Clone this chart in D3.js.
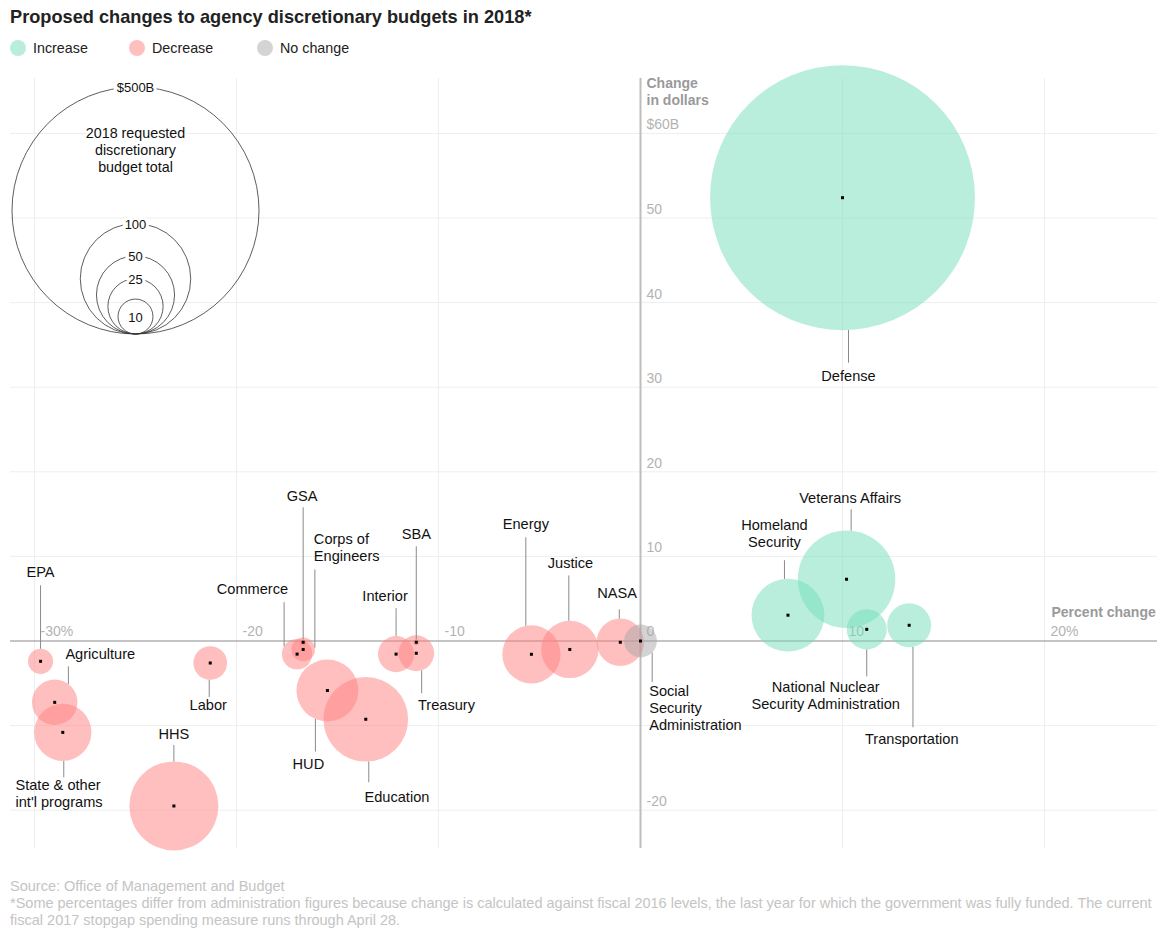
<!DOCTYPE html>
<html>

<head>
  <meta charset="utf-8">
  <title>Proposed changes to agency discretionary budgets in 2018</title>
  <script src="https://cdn.jsdelivr.net/npm/d3@7"></script>
  <style>
    body {
      margin: 0;
      background: #fff;
      font-family: "Liberation Sans", Arial, Helvetica, sans-serif;
    }
    text {
      font-family: "Liberation Sans", Arial, Helvetica, sans-serif;
    }
    line.grid {
      stroke: #eeeeee;
      stroke-width: 1;
    }
    text.tick {
      fill: #b3b3b3;
      font-size: 14px;
    }
    text.axis-title {
      fill: #9a9a9a;
      font-size: 14px;
      font-weight: bold;
    }
    text.label {
      fill: #111;
      font-size: 14.6px;
    }
    line.leader {
      stroke: #8a8a8a;
      stroke-width: 1;
    }
    text.foot {
      fill: #c4c4c4;
      font-size: 14.5px;
    }
  </style>
</head>

<body>
  <svg id="chart"></svg>

  <script>
    // agencies, percent change in budget, change in dollars ($B), 2018 request ($B)
    var agencies = ['EPA', 'Agriculture', "State & other int'l programs", 'HHS', 'Labor', 'Commerce', 'GSA',
      'Corps of Engineers', 'HUD', 'Education', 'Interior', 'Treasury', 'SBA', 'Energy', 'Justice', 'NASA',
      'Social Security Administration', 'Homeland Security', 'Veterans Affairs',
      'National Nuclear Security Administration', 'Transportation', 'Defense'];
    var pctChange = [-29.7, -29.0, -28.6, -23.1, -21.3, -17.0, -16.7,
      -16.7, -15.5, -13.6, -12.1, -11.1, -11.1, -5.4, -3.5, -1.0,
      0, 7.3, 10.2,
      11.2, 13.3, 10.0];
    var dollarChange = [-2.4, -7.25, -10.8, -19.5, -2.6, -1.55, -0.15,
      -1.0, -5.85, -9.25, -1.55, -1.45, -0.15, -1.57, -1.0, -0.15,
      0, 3.05, 7.3,
      1.38, 1.86, 52.4];
    var budget2018 = [5.2, 17.0, 26.9, 65.0, 9.3, 7.6, 0.3,
      4.6, 31.4, 58.8, 10.7, 10.5, 0.3, 27.8, 26.9, 18.5,
      8.8, 43.5, 78.0,
      13.2, 15.8, 575];

    var xTicks = [-30, -20, -10, 0, 10, 20];
    var xTickLabels = ['-30%', '-20', '-10', '0', '10', '20%'];
    var yTicks = [-20, -10, 10, 20, 30, 40, 50, 60];
    var yTickLabels = ['-20', '', '10', '20', '30', '40', '50', '$60B'];

    var sizeValues = [500, 100, 50, 25, 10];
    var sizeLabels = ['$500B', '100', '50', '25', '10'];

    var legendKeys = ['Increase', 'Decrease', 'No change'];

    var title = 'Proposed changes to agency discretionary budgets in 2018*';
    var footLines = ['Source: Office of Management and Budget',
      '*Some percentages differ from administration figures because change is calculated against fiscal 2016 levels, the last year for which the government was fully funded. The current',
      'fiscal 2017 stopgap spending measure runs through April 28.'];

    // label placement, in pixels relative to each bubble centre
    var labelLayout = {
      'EPA': { lines: ['EPA'], dx: 0, dy: -84, anchor: 'middle', lx: 0, le: -76 },
      'Agriculture': { lines: ['Agriculture'], dx: 10.7, dy: -43, anchor: 'start', lx: 13.7, le: -36 },
      "State & other int'l programs": { lines: ['State & other', "int'l programs"], dx: -47.3, dy: 58, anchor: 'start', lx: 1, le: 45 },
      'HHS': { lines: ['HHS'], dx: 0, dy: -67, anchor: 'middle', lx: 0, le: -61 },
      'Labor': { lines: ['Labor'], dx: -2, dy: 47, anchor: 'middle', lx: -1, le: 34 },
      'Commerce': { lines: ['Commerce'], dx: -9, dy: -60, anchor: 'end', lx: -13, le: -52 },
      'GSA': { lines: ['GSA'], dx: -1, dy: -141, anchor: 'middle', lx: 0, le: -135 },
      'Corps of Engineers': { lines: ['Corps of', 'Engineers'], dx: 10.7, dy: -105, anchor: 'start', lx: 11.7, le: -80 },
      'HUD': { lines: ['HUD'], dx: -19, dy: 79, anchor: 'middle', lx: -12, le: 61 },
      'Education': { lines: ['Education'], dx: -1.3, dy: 83, anchor: 'start', lx: 3, le: 63 },
      'Interior': { lines: ['Interior'], dx: 11.7, dy: -53, anchor: 'end', lx: 0, le: -46 },
      'Treasury': { lines: ['Treasury'], dx: 1.7, dy: 57, anchor: 'start', lx: 5.4, le: 40 },
      'SBA': { lines: ['SBA'], dx: 0, dy: -103, anchor: 'middle', lx: 0, le: -96 },
      'Energy': { lines: ['Energy'], dx: -5.6, dy: -125, anchor: 'middle', lx: -5.6, le: -117 },
      'Justice': { lines: ['Justice'], dx: 0.7, dy: -81, anchor: 'middle', lx: -1, le: -74 },
      'NASA': { lines: ['NASA'], dx: -3.3, dy: -44, anchor: 'middle', lx: -1, le: -33 },
      'Social Security Administration': { lines: ['Social', 'Security', 'Administration'], dx: 8.7, dy: 55, anchor: 'start', lx: 11.7, le: 41 },
      'Homeland Security': { lines: ['Homeland', 'Security'], dx: -13.5, dy: -85, anchor: 'middle', lx: -3.5, le: -55 },
      'Veterans Affairs': { lines: ['Veterans Affairs'], dx: 3.6, dy: -76, anchor: 'middle', lx: 4.6, le: -70 },
      'National Nuclear Security Administration': { lines: ['National Nuclear', 'Security Administration'], dx: -41, dy: 63, anchor: 'middle', lx: 0, le: 47 },
      'Transportation': { lines: ['Transportation'], dx: -44.2, dy: 119, anchor: 'start', lx: 3.8, le: 102 },
      'Defense': { lines: ['Defense'], dx: 6, dy: 183, anchor: 'middle', lx: 6, le: 165 }
    };

    var width = 1174, height = 938;
    var lineH = 17;

    var fills = { 'Increase': '#73ddb9', 'Decrease': '#ff8080', 'No change': '#a8a8a8' };
    var legendFills = { 'Increase': '#b9eedc', 'Decrease': '#ffbfbf', 'No change': '#d4d4d4' };

    var dataset = agencies.map((name, i) => {
      var kind = pctChange[i] > 0 ? 'Increase' : (pctChange[i] < 0 ? 'Decrease' : 'No change');
      return { name: name, pct: pctChange[i], dollars: dollarChange[i], budget: budget2018[i], kind: kind };
    });

    var svg = d3.select('#chart')
      .attr('width', width)
      .attr('height', height);

    var x = d3.scaleLinear().domain([-30, 20]).range([34.5, 1044.5]);
    var y = d3.scaleLinear().domain([-20, 60]).range([810.2, 133.4]);
    var r = d3.scaleSqrt().domain([0, 500]).range([0, 123.5]);

    var plotLeft = 10, plotRight = 1157, plotTop = 78, plotBottom = 848;

    // gridlines
    svg.selectAll('line.vgrid')
      .data(xTicks.filter(d => d !== 0))
      .enter()
      .append('line')
      .attr('class', 'grid')
      .attr('x1', d => x(d)).attr('x2', d => x(d))
      .attr('y1', plotTop).attr('y2', plotBottom);

    svg.selectAll('line.hgrid')
      .data(yTicks)
      .enter()
      .append('line')
      .attr('class', 'grid')
      .attr('x1', plotLeft).attr('x2', plotRight)
      .attr('y1', d => y(d)).attr('y2', d => y(d));

    // tick labels
    svg.selectAll('text.xtick')
      .data(xTicks)
      .enter()
      .append('text')
      .attr('class', 'tick')
      .attr('x', d => x(d) + 6)
      .attr('y', y(0) - 5)
      .text((d, i) => xTickLabels[i]);

    svg.selectAll('text.ytick')
      .data(yTicks)
      .enter()
      .append('text')
      .attr('class', 'tick')
      .attr('x', x(0) + 6)
      .attr('y', d => y(d) - 4)
      .text((d, i) => yTickLabels[i]);

    svg.append('text')
      .attr('class', 'axis-title')
      .attr('x', x(0) + 6)
      .attr('y', 88)
      .text('Change');
    svg.append('text')
      .attr('class', 'axis-title')
      .attr('x', x(0) + 6)
      .attr('y', 105)
      .text('in dollars');
    svg.append('text')
      .attr('class', 'axis-title')
      .attr('x', x(20) + 7)
      .attr('y', 617)
      .text('Percent change');

    // axes
    svg.append('line')
      .attr('x1', plotLeft).attr('x2', plotRight)
      .attr('y1', y(0)).attr('y2', y(0))
      .attr('stroke', '#8a8a8a')
      .attr('stroke-width', 1);

    svg.append('line')
      .attr('x1', x(0)).attr('x2', x(0))
      .attr('y1', plotTop).attr('y2', plotBottom)
      .attr('stroke', '#bdbdbd')
      .attr('stroke-width', 2);

    // size legend
    var sizeCx = 135.5, sizeBase = 334;
    var sizeG = svg.append('g');
    sizeG.selectAll('circle')
      .data(sizeValues)
      .enter()
      .append('circle')
      .attr('cx', sizeCx)
      .attr('cy', d => sizeBase - r(d))
      .attr('r', d => r(d))
      .attr('fill', 'none')
      .attr('stroke', '#333')
      .attr('stroke-width', 0.8);

    sizeG.selectAll('text')
      .data(sizeValues)
      .enter()
      .append('text')
      .attr('x', sizeCx)
      .attr('y', d => d === 10 ? sizeBase - r(d) + 5 : sizeBase - 2 * r(d) + 5)
      .attr('text-anchor', 'middle')
      .attr('font-size', 13)
      .attr('fill', '#111')
      .attr('stroke', '#fff')
      .attr('stroke-width', 6)
      .attr('paint-order', 'stroke')
      .text((d, i) => sizeLabels[i]);

    ['2018 requested', 'discretionary', 'budget total'].forEach((t, i) => {
      sizeG.append('text')
        .attr('x', sizeCx)
        .attr('y', 138 + i * lineH)
        .attr('text-anchor', 'middle')
        .attr('font-size', 14.3)
        .attr('fill', '#111')
        .attr('stroke', '#fff')
        .attr('stroke-width', 4)
        .attr('paint-order', 'stroke')
        .text(t);
    });

    // bubbles
    svg.selectAll('circle.bubble')
      .data(dataset)
      .enter()
      .append('circle')
      .attr('class', 'bubble')
      .attr('cx', d => x(d.pct))
      .attr('cy', d => y(d.dollars))
      .attr('r', d => r(d.budget))
      .attr('fill', d => fills[d.kind])
      .attr('fill-opacity', 0.5);

    svg.selectAll('rect.dot')
      .data(dataset)
      .enter()
      .append('rect')
      .attr('class', 'dot')
      .attr('x', d => x(d.pct) - 1.5)
      .attr('y', d => y(d.dollars) - 1.5)
      .attr('width', 3)
      .attr('height', 3)
      .attr('fill', '#000');

    // leaders and labels
    function edgeOffset(rad, lx) {
      return Math.abs(lx) < rad ? Math.sqrt(rad * rad - lx * lx) : 0;
    }

    svg.selectAll('line.leader')
      .data(dataset)
      .enter()
      .append('line')
      .attr('class', 'leader')
      .attr('x1', d => x(d.pct) + labelLayout[d.name].lx)
      .attr('x2', d => x(d.pct) + labelLayout[d.name].lx)
      .attr('y1', d => {
        var L = labelLayout[d.name];
        var h = edgeOffset(r(d.budget), L.lx);
        return y(d.dollars) + (L.le < 0 ? -h : h);
      })
      .attr('y2', d => y(d.dollars) + labelLayout[d.name].le);

    var labels = svg.selectAll('text.label')
      .data(dataset)
      .enter()
      .append('text')
      .attr('class', 'label')
      .attr('text-anchor', d => labelLayout[d.name].anchor)
      .attr('x', d => x(d.pct) + labelLayout[d.name].dx)
      .attr('y', d => y(d.dollars) + labelLayout[d.name].dy);

    labels.each(function (d) {
      var L = labelLayout[d.name];
      var el = d3.select(this);
      L.lines.forEach((t, i) => {
        el.append('tspan')
          .attr('x', x(d.pct) + L.dx)
          .attr('dy', i === 0 ? 0 : lineH)
          .text(t);
      });
    });

    // title and colour legend
    svg.append('text')
      .attr('x', 10)
      .attr('y', 23)
      .attr('font-size', 18.2)
      .attr('font-weight', 'bold')
      .attr('fill', '#222')
      .text(title);

    var legendX = [18, 137, 265];
    svg.selectAll('circle.key')
      .data(legendKeys)
      .enter()
      .append('circle')
      .attr('class', 'key')
      .attr('cx', (d, i) => legendX[i])
      .attr('cy', 48)
      .attr('r', 8)
      .attr('fill', d => legendFills[d]);

    svg.selectAll('text.key')
      .data(legendKeys)
      .enter()
      .append('text')
      .attr('class', 'key')
      .attr('x', (d, i) => legendX[i] + 15)
      .attr('y', 53)
      .attr('font-size', 14.3)
      .attr('fill', '#222')
      .text(d => d);

    // footer
    svg.selectAll('text.foot')
      .data(footLines)
      .enter()
      .append('text')
      .attr('class', 'foot')
      .attr('x', 10)
      .attr('y', (d, i) => 891 + i * 17)
      .text(d => d);
  </script>
</body>

</html>
